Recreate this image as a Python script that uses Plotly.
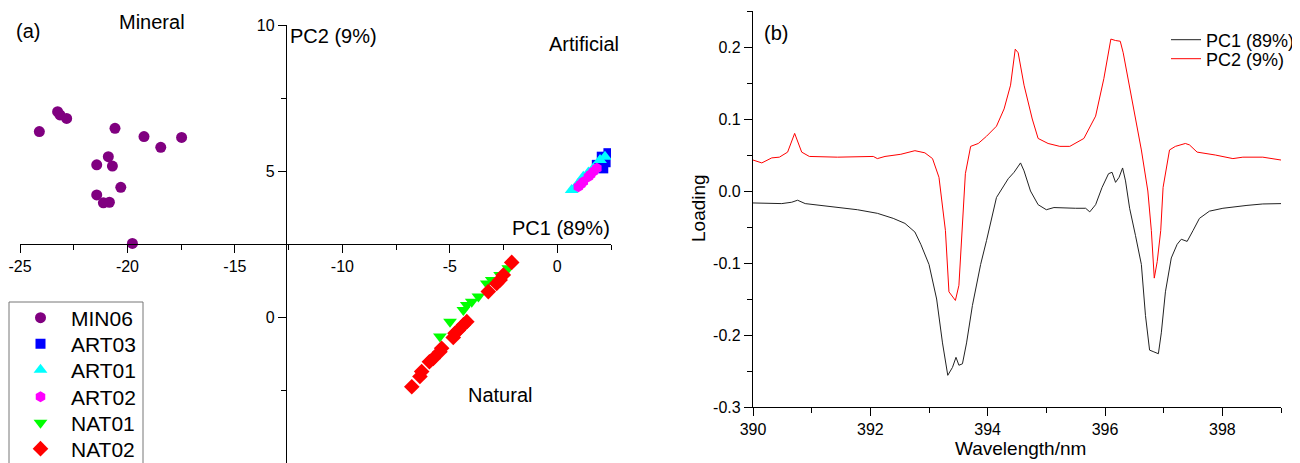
import plotly.graph_objects as go

# ---- panel (a): PCA scores ----
min06_x = [-24.10, -23.25, -23.14, -22.83, -20.58, -19.23, -18.45, -17.48, -20.89, -21.43, -20.70, -20.31, -21.43, -21.12, -20.84, -19.77]
min06_y = [6.35, 7.03, 6.92, 6.80, 6.46, 6.18, 5.81, 6.15, 5.49, 5.21, 5.17, 4.44, 4.18, 3.91, 3.93, 2.52]

art03_x = [2.38, 2.14, 1.84, 2.07, 2.25]
art03_y = [5.61, 5.09, 5.21, 5.49, 5.30]

art01_x = [0.67, 1.99, 2.22, 1.21, 1.68, 0.95, 1.45]
art01_y = [4.35, 5.38, 5.49, 4.80, 5.09, 4.55, 4.95]

art02_x = [0.98, 1.21, 1.45, 1.68, 1.84, 1.10, 1.55]
art02_y = [4.46, 4.63, 4.80, 4.98, 5.09, 4.55, 4.88]

nat01_x = [-2.28, -2.66, -3.05, -3.28, -3.67, -3.98, -4.21, -4.37, -4.99, -5.46]
nat01_y = [1.67, 1.44, 1.27, 1.15, 0.70, 0.52, 0.41, 0.24, -0.16, -0.67]

nat02_x = [-2.12, -2.51, -2.66, -2.82, -3.21, -4.21, -4.37, -4.60, -4.76, -4.84, -5.38, -5.46, -5.77, -5.95, -6.31, -6.39, -6.77]
nat02_y = [1.87, 1.44, 1.27, 1.15, 0.87, -0.16, -0.27, -0.45, -0.56, -0.70, -1.07, -1.19, -1.42, -1.53, -1.87, -2.04, -2.39]

a_xticks = [-25, -20, -15, -10, -5, 0]
a_xtext = ["-25", "-20", "-15", "-10", "-5", "0"]
a_xminor = [-22.5, -17.5, -12.5, -7.5, -2.5, 2.5]
a_yticks = [-5, 0, 5, 10]
a_ytext = ["-5", "0", "5", "10"]
a_yminor = [-2.5, 2.5, 7.5]

# ---- panel (b): loadings ----
wl_pc1 = [390.0, 390.49, 390.66, 390.76, 390.89, 391.30, 391.78, 392.12, 392.39, 392.59,
          392.76, 392.86, 393.0, 393.13, 393.23, 393.32, 393.40, 393.46, 393.51, 393.57,
          393.64, 393.74, 393.88, 393.98, 394.15, 394.35, 394.45, 394.56, 394.62, 394.73,
          394.86, 395.0, 395.13, 395.5, 395.67, 395.74, 395.84, 395.95, 396.06, 396.12,
          396.18, 396.24, 396.30, 396.35, 396.42, 396.52, 396.62, 396.69, 396.76, 396.82,
          396.91, 396.96, 397.03, 397.13, 397.23, 397.30, 397.40, 397.50, 397.61, 397.78,
          398.01, 398.42, 398.69, 399.0]
pc1 = [-0.0166, -0.0175, -0.0156, -0.0128, -0.0175, -0.021, -0.026, -0.031, -0.038, -0.045,
       -0.057, -0.074, -0.102, -0.15, -0.211, -0.256, -0.245, -0.231, -0.242, -0.240,
       -0.211, -0.159, -0.102, -0.069, -0.009, 0.017, 0.026, 0.039, 0.028, 0.0,
       -0.019, -0.026, -0.023, -0.024, -0.024, -0.029, -0.019, 0.005, 0.024, 0.026,
       0.012, 0.019, 0.032, 0.014, -0.024, -0.062, -0.102, -0.173, -0.221, -0.223,
       -0.226, -0.197, -0.14, -0.093, -0.074, -0.067, -0.070, -0.055, -0.038, -0.028,
       -0.024, -0.020, -0.018, -0.0175]

wl_pc2 = [390.0, 390.15, 390.32, 390.45, 390.59, 390.71, 390.83, 390.96, 391.44, 392.05,
          392.12, 392.25, 392.52, 392.76, 392.93, 393.06, 393.17, 393.28, 393.34, 393.45,
          393.51, 393.56, 393.62, 393.71, 393.84, 393.98, 394.15, 394.28, 394.39, 394.47,
          394.52, 394.62, 394.76, 394.86, 395.03, 395.23, 395.40, 395.64, 395.84, 395.98,
          396.10, 396.18, 396.26, 396.31, 396.45, 396.62, 396.73, 396.79, 396.84, 396.89,
          396.95, 396.99, 397.1, 397.2, 397.37, 397.44, 397.57, 397.88, 398.18, 398.35,
          398.69, 399.0]
pc2 = [0.043, 0.039, 0.046, 0.047, 0.054, 0.080, 0.054, 0.048, 0.047, 0.048,
       0.045, 0.048, 0.051, 0.056, 0.053, 0.045, 0.019, -0.055, -0.14, -0.152,
       -0.131, -0.06, 0.024, 0.062, 0.066, 0.076, 0.09, 0.114, 0.147, 0.197,
       0.192, 0.147, 0.10, 0.073, 0.066, 0.062, 0.062, 0.073, 0.104, 0.156,
       0.211, 0.209, 0.208, 0.192, 0.133, 0.057, 0.0, -0.055, -0.121, -0.098,
       -0.055, 0.005, 0.057, 0.062, 0.066, 0.064, 0.054, 0.05, 0.045, 0.047,
       0.047, 0.043]

b_xticks = [390, 392, 394, 396, 398]
b_xtext = ["390", "392", "394", "396", "398"]
b_xminor = [391, 393, 395, 397, 399]
b_yticks = [-0.3, -0.2, -0.1, 0.0, 0.1, 0.2]
b_ytext = ["-0.3", "-0.2", "-0.1", "0.0", "0.1", "0.2"]
b_yminor = [-0.25, -0.15, -0.05, 0.05, 0.15, 0.25]

FONT = "Liberation Sans, Arial, sans-serif"
W, H = 1300, 463
OFF = 8  # page body margin


def px(x):
    return (x - OFF) / W


def py(y):
    return 1 - (y - OFF) / H


fig = go.Figure()

groups = [
    ("MIN06", min06_x, min06_y, "circle", "#800080", 11),
    ("ART03", art03_x, art03_y, "square", "#0000ff", 10),
    ("ART01", art01_x, art01_y, "triangle-up", "#00ffff", 12),
    ("ART02", art02_x, art02_y, "hexagon", "#ff00ff", 11),
    ("NAT01", nat01_x, nat01_y, "triangle-down", "#00ff00", 12),
    ("NAT02", nat02_x, nat02_y, "diamond", "#ff0000", 12),
]
# one legend per entry so the row spacing follows the original
a_legend_rows = [318, 344, 370, 397, 423, 449]
legends = {}
for i, (name, xs, ys, sym, col, sz) in enumerate(groups):
    key = "legend" if i == 0 else f"legend{i + 1}"
    fig.add_trace(go.Scatter(x=xs, y=ys, mode="markers", name=name, xaxis="x", yaxis="y",
                             marker=dict(symbol=sym, color=col, size=sz, line=dict(width=0)),
                             legend=key))
    legends[key] = dict(x=px(10), y=py(a_legend_rows[i]), xanchor="left", yanchor="middle",
                        bgcolor="rgba(0,0,0,0)", borderwidth=0, itemwidth=51,
                        font=dict(size=21, family=FONT, color="black"))

b_lines = [("PC1 (89%)", wl_pc1, pc1, "#222222", 40), ("PC2 (9%)", wl_pc2, pc2, "#ff0000", 59)]
for j, (name, xs, ys, col, row) in enumerate(b_lines):
    key = f"legend{len(groups) + j + 1}"
    fig.add_trace(go.Scatter(x=xs, y=ys, mode="lines", name=name, xaxis="x2", yaxis="y2",
                             line=dict(color=col, width=1), legend=key))
    legends[key] = dict(x=px(1166), y=py(row), xanchor="left", yanchor="middle",
                        bgcolor="rgba(0,0,0,0)", borderwidth=0,
                        font=dict(size=18, family=FONT, color="black"))

axis_common = dict(showgrid=False, zeroline=False, showline=True, linecolor="black", linewidth=1.3,
                   ticks="outside", ticklen=8, tickwidth=1.3, tickcolor="black", automargin=False,
                   tickfont=dict(size=16, color="black", family=FONT), tickmode="array")


def minor(vals):
    return dict(tickmode="array", tickvals=vals, ticklen=5, tickcolor="black", ticks="outside")


fig.update_layout(
    width=W, height=H,
    margin=dict(l=0, r=0, t=0, b=0, autoexpand=False),
    paper_bgcolor="white", plot_bgcolor="white",
    font=dict(family=FONT, color="black"),
    showlegend=True,
    xaxis=dict(axis_common, domain=[px(20), px(611)], range=[-25, 2.5],
               anchor="free", position=py(244),
               tickvals=a_xticks, ticktext=a_xtext, minor=minor(a_xminor)),
    yaxis=dict(axis_common, domain=[py(463), py(25)], range=[-5, 10],
               anchor="free", position=px(286),
               tickvals=a_yticks, ticktext=a_ytext, minor=minor(a_yminor)),
    xaxis2=dict(axis_common, domain=[px(753), px(1281)], range=[390, 399], anchor="y2",
                tickvals=b_xticks, ticktext=b_xtext, minor=minor(b_xminor)),
    yaxis2=dict(axis_common, domain=[py(407), py(11)], range=[-0.3, 0.25], anchor="x2",
                tickvals=b_yticks, ticktext=b_ytext, minor=minor(b_yminor)),
    **legends,
)

# frame around the panel (a) legend
fig.add_shape(type="rect", xref="paper", yref="paper", x0=px(9), x1=px(143), y0=py(475), y1=py(302),
              line=dict(color="#777777", width=1), fillcolor="rgba(0,0,0,0)")

annots = [
    ("(a)", 28, 31, 20),
    ("Mineral", 152, 22, 20),
    ("PC2 (9%)", 333, 36, 20),
    ("Artificial", 584, 44, 20),
    ("PC1 (89%)", 561, 228, 20),
    ("Natural", 500, 395, 20),
    ("(b)", 776, 33, 20),
    ("Wavelength/nm", 1020, 448, 19),
]
for txt, ax, ay, fs in annots:
    fig.add_annotation(text=txt, x=px(ax), y=py(ay), xref="paper", yref="paper",
                       showarrow=False, xanchor="center", yanchor="middle",
                       font=dict(size=fs, family=FONT, color="black"))
fig.add_annotation(text="Loading", x=px(698), y=py(208), xref="paper", yref="paper",
                   showarrow=False, textangle=-90, xanchor="center", yanchor="middle",
                   font=dict(size=19, family=FONT, color="black"))

fig.write_html("out.html")
